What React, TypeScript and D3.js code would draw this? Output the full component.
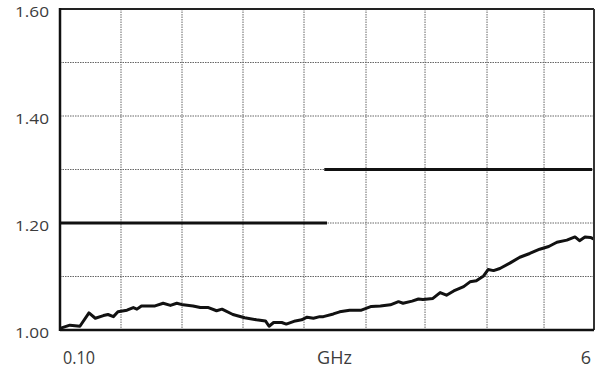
import React from "react";
import * as d3 from "d3";

// ---- data ----
const freqGHz = [
  0.1, 0.21, 0.32, 0.42, 0.49, 0.58, 0.63, 0.69, 0.74, 0.84, 0.91, 0.95, 1.0, 1.15, 1.24, 1.32,
  1.39, 1.46, 1.57, 1.65, 1.74, 1.83, 1.89, 2.01, 2.14, 2.27, 2.37, 2.41, 2.46, 2.55, 2.6, 2.7,
  2.77, 2.83, 2.9, 2.97, 3.01, 3.12, 3.19, 3.3, 3.43, 3.54, 3.64, 3.75, 3.84, 3.89, 3.99, 4.06,
  4.11, 4.22, 4.3, 4.37, 4.45, 4.56, 4.63, 4.7, 4.78, 4.83, 4.89, 4.96, 5.07, 5.18, 5.29, 5.4,
  5.5, 5.59, 5.7, 5.79, 5.84, 5.9, 5.96, 6.0,
];
const vswr = [
  1.003, 1.009, 1.007, 1.032, 1.022, 1.027, 1.029, 1.025, 1.034, 1.037, 1.042, 1.039, 1.045, 1.045,
  1.05, 1.046, 1.05, 1.047, 1.045, 1.042, 1.042, 1.036, 1.039, 1.029, 1.023, 1.019, 1.017, 1.007,
  1.014, 1.014, 1.011, 1.017, 1.019, 1.024, 1.022, 1.025, 1.025, 1.03, 1.034, 1.037, 1.037, 1.044,
  1.045, 1.047, 1.053, 1.05, 1.054, 1.058, 1.057, 1.059, 1.07, 1.065, 1.073, 1.081, 1.09, 1.092,
  1.101, 1.113, 1.111, 1.115, 1.125, 1.136, 1.143, 1.151, 1.156, 1.164, 1.168, 1.174, 1.167,
  1.174, 1.173, 1.17,
];
// specification limit: two separate horizontal segments
const limitStart = [0.1, 3.02];
const limitEnd = [3.05, 5.98];
const limitVal = [1.2, 1.3];

const yTicks = [1.0, 1.2, 1.4, 1.6];
const yTickLabels = ["1.00", "1.20", "1.40", "1.60"];
const yGrid = [1.1, 1.2, 1.3, 1.4, 1.5];
const xGrid = [0.774, 1.448, 2.122, 2.796, 3.481, 4.133, 4.818, 5.448];
const xLabels = ["0.10", "GHz", "6"];
const xLabelPos = [0.1, 3.0, 6.0];

const W = 604;
const H = 368;

export default function App() {
  const x = d3.scaleLinear().domain([0.1, 6]).range([60, 594]);
  const y = d3.scaleLinear().domain([1.0, 1.6]).range([330, 9]);

  const line = d3
    .line<number>()
    .x((_, i) => x(freqGHz[i]))
    .y((d) => y(d))
    .curve(d3.curveLinear);

  const textColor = "#3c3c3c";
  const font = "'Open Sans', 'Noto Sans', sans-serif";
  const gridColor = "#666";

  return (
    <svg
      width={W}
      height={H}
      style={{ position: "absolute", left: 0, top: 0, background: "#fff" }}
    >
      <rect x={0} y={0} width={W} height={H} fill="#fff" />
      {/* grid */}
      {yGrid.map((v) => (
        <line
          key={"yg" + v}
          x1={x(0.1)}
          x2={x(6)}
          y1={y(v)}
          y2={y(v)}
          stroke={gridColor}
          strokeWidth={1}
          strokeDasharray="1.5,1"
        />
      ))}
      {xGrid.map((v) => (
        <line
          key={"xg" + v}
          x1={x(v)}
          x2={x(v)}
          y1={y(1.6)}
          y2={y(1.0)}
          stroke={gridColor}
          strokeWidth={1}
          strokeDasharray="1.5,1"
        />
      ))}
      {/* limit segments */}
      {limitVal.map((v, i) => (
        <line
          key={"lim" + i}
          x1={x(limitStart[i])}
          x2={x(limitEnd[i])}
          y1={y(v)}
          y2={y(v)}
          stroke="#111"
          strokeWidth={3}
        />
      ))}
      {/* measured curve */}
      <path
        d={line(vswr) || ""}
        fill="none"
        stroke="#111"
        strokeWidth={3}
        strokeLinejoin="round"
      />
      {/* frame */}
      <line x1={x(0.1)} x2={x(6)} y1={y(1.6)} y2={y(1.6)} stroke="#222" strokeWidth={2} />
      <line x1={x(6)} x2={x(6)} y1={y(1.6)} y2={y(1.0)} stroke="#333" strokeWidth={2} />
      <line x1={x(0.1)} x2={x(6)} y1={y(1.0)} y2={y(1.0)} stroke="#111" strokeWidth={2.5} />
      <line x1={x(0.1)} x2={x(0.1)} y1={y(1.6) - 1} y2={y(1.0) + 1} stroke="#111" strokeWidth={2.5} />
      {/* y labels */}
      {yTicks.map((v, i) => (
        <text
          key={"yl" + v}
          x={49}
          y={y(v) + 7.5}
          textAnchor="end"
          fontFamily={font}
          fontSize={14.5}
          fill={textColor}
          textLength={34}
          lengthAdjust="spacingAndGlyphs"
        >
          {yTickLabels[i]}
        </text>
      ))}
      {/* x labels */}
      <text x={x(xLabelPos[0]) + 3} y={364} fontFamily={font} fontSize={18} fill={textColor} textLength={32} lengthAdjust="spacingAndGlyphs">
        {xLabels[0]}
      </text>
      <text x={x(xLabelPos[1]) + 12} y={364} textAnchor="middle" fontFamily={font} fontSize={18} fill={textColor}>
        {xLabels[1]}
      </text>
      <text x={x(xLabelPos[2]) - 8} y={364} textAnchor="middle" fontFamily={font} fontSize={18} fill={textColor}>
        {xLabels[2]}
      </text>
    </svg>
  );
}
